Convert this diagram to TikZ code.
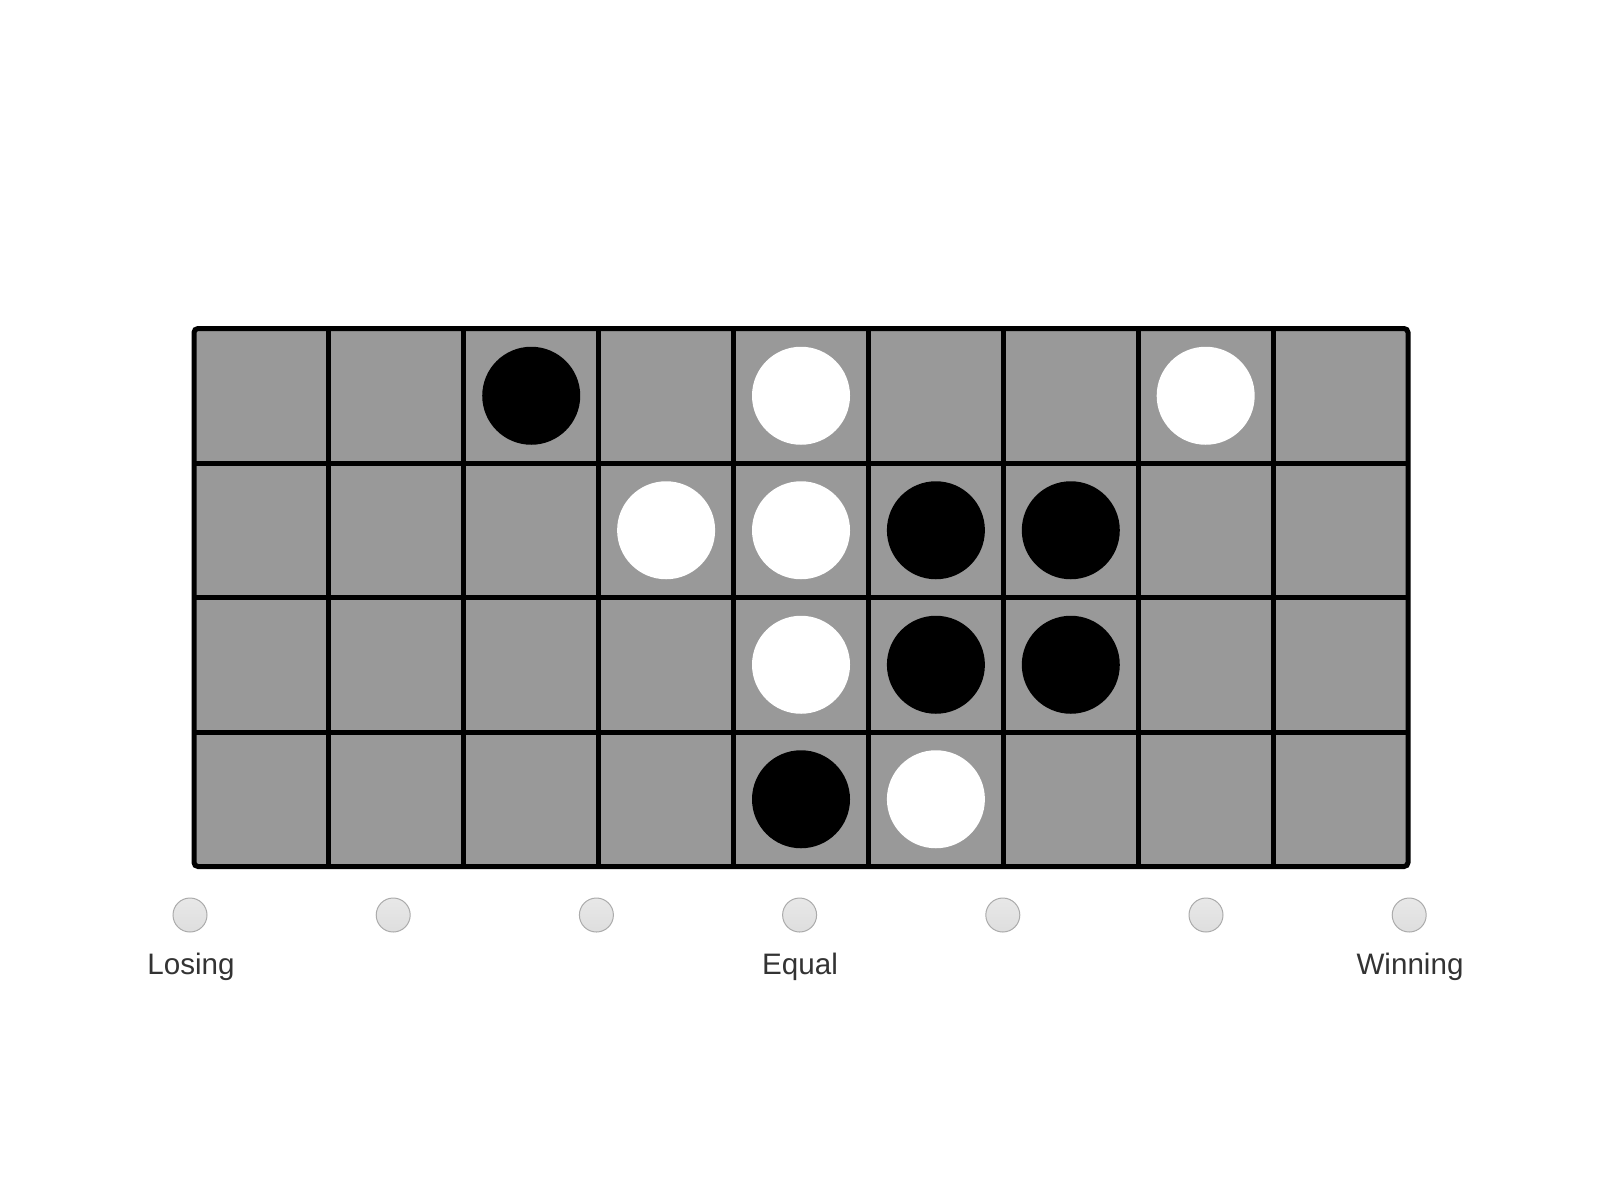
\documentclass[tikz,border=0pt]{standalone}
\usepackage{fontspec}
\setmainfont{Liberation Sans}
\definecolor{boardgray}{HTML}{999999}
\definecolor{radiofill}{HTML}{DEDEDE}
\definecolor{radioedge}{HTML}{ABABAB}
\definecolor{labeltext}{HTML}{333333}
\tikzset{
  gridline/.style={line width=5pt, black},
  blackpiece/.style={circle, fill=black, minimum size=98pt, inner sep=0pt},
  whitepiece/.style={circle, fill=white, minimum size=98pt, inner sep=0pt},
  radio/.style={circle, top color=radiofill!70!white, bottom color=radiofill, draw=radioedge, line width=1pt, minimum size=34pt, inner sep=0pt},
  scalelabel/.style={text=labeltext, font=\fontsize{29.6}{34}\selectfont, anchor=base, inner sep=0pt}
}
\begin{document}
\begin{tikzpicture}[x=1pt,y=-1pt]
\useasboundingbox (0,0) rectangle (1600,1200);
\def\cw{134.89}
\def\rh{134.5}
\def\bx{194}
\def\by{328.5}
% board
\fill[boardgray, rounded corners=4pt] (\bx,\by) rectangle (\bx+9*\cw,\by+4*\rh);
\foreach \i in {1,...,8} \draw[gridline] (\bx+\i*\cw,\by) -- (\bx+\i*\cw,\by+4*\rh);
\foreach \j in {1,...,3} \draw[gridline] (\bx,\by+\j*\rh) -- (\bx+9*\cw,\by+\j*\rh);
\draw[gridline, rounded corners=4pt] (\bx,\by) rectangle (\bx+9*\cw,\by+4*\rh);
% pieces: (col,row)
\foreach \c/\r/\n in {2/0/b1, 5/1/b2, 6/1/b3, 5/2/b4, 6/2/b5, 4/3/b6}
  \node[blackpiece] (\n) at (\bx+\c*\cw+0.5*\cw, \by+\r*\rh+0.5*\rh) {};
\foreach \c/\r/\n in {4/0/w1, 7/0/w2, 3/1/w3, 4/1/w4, 4/2/w5, 5/3/w6}
  \node[whitepiece] (\n) at (\bx+\c*\cw+0.5*\cw, \by+\r*\rh+0.5*\rh) {};
% radio buttons
\foreach \k in {0,...,6}
  \node[radio] (r\k) at (190+\k*203.2, 915) {};
\node[scalelabel] (losing) at (191,974) {Losing};
\node[scalelabel] (equal) at (800,974) {Equal};
\node[scalelabel] (winning) at (1410,974) {Winning};
\end{tikzpicture}
\end{document}
